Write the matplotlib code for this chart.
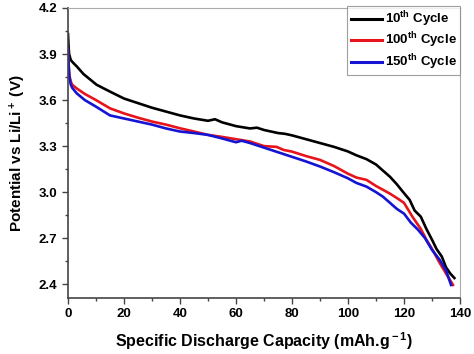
import matplotlib
matplotlib.use("Agg")
import matplotlib.pyplot as plt
from matplotlib.ticker import MultipleLocator, FormatStrFormatter

plt.rcParams['font.family'] = ['Liberation Sans', 'DejaVu Sans']
plt.rcParams['font.weight'] = 'bold'
plt.rcParams['mathtext.fontset'] = 'custom'
plt.rcParams['mathtext.rm'] = 'Liberation Sans:bold'
plt.rcParams['mathtext.bf'] = 'Liberation Sans:bold'
plt.rcParams['mathtext.it'] = 'Liberation Sans:bold'

cap_10 = [0.0, 0.2, 0.4, 1.0, 2.0, 3.1, 5.5, 10.2, 15.0, 20.0, 25.0, 30.0, 35.0, 40.0, 45.0, 50.0,
          52.5, 55.0, 60.0, 65.0, 67.5, 70.0, 75.0, 77.5, 80.0, 85.0, 90.0, 95.0, 100.0, 103.0,
          106.6, 110.0, 112.5, 115.0, 117.5, 119.7, 122.0, 123.8, 126.0, 128.0, 130.0, 131.6,
          133.5, 135.0, 136.5, 138.0]
v_10 = [4.03, 3.95, 3.90, 3.86, 3.84, 3.82, 3.77, 3.70, 3.655, 3.61, 3.58, 3.55, 3.525, 3.50, 3.48, 3.465,
        3.475, 3.455, 3.43, 3.415, 3.42, 3.405, 3.385, 3.38, 3.37, 3.345, 3.32, 3.295, 3.265, 3.24,
        3.215, 3.18, 3.14, 3.10, 3.05, 3.00, 2.95, 2.88, 2.84, 2.76, 2.69, 2.63,
        2.58, 2.51, 2.47, 2.44]

cap_100 = [0.0, 0.2, 0.5, 1.0, 1.5, 3.1, 6.0, 10.0, 15.0, 20.0, 25.0, 30.0, 35.0, 40.0, 45.0, 50.0,
           55.0, 60.0, 65.0, 70.0, 74.5, 77.0, 80.0, 85.0, 90.0, 95.0, 100.0, 103.0, 106.6, 110.0,
           112.5, 115.0, 118.0, 120.0, 123.0, 126.0, 128.0, 130.0, 132.7, 135.0, 137.5]
v_100 = [3.93, 3.83, 3.76, 3.72, 3.70, 3.676, 3.64, 3.60, 3.546, 3.513, 3.485, 3.46, 3.44, 3.416, 3.395, 3.373,
         3.36, 3.345, 3.33, 3.30, 3.295, 3.275, 3.264, 3.235, 3.21, 3.17, 3.12, 3.095, 3.08, 3.04,
         3.015, 2.99, 2.955, 2.93, 2.84, 2.76, 2.69, 2.63, 2.54, 2.47, 2.395]

cap_150 = [0.0, 0.2, 0.5, 1.0, 1.5, 3.1, 6.0, 10.0, 15.0, 20.0, 25.0, 30.0, 35.0, 40.0, 45.0, 50.0,
           55.0, 60.0, 62.0, 65.0, 70.0, 75.0, 80.0, 85.0, 90.0, 95.0, 100.0, 103.0, 106.6, 110.0,
           112.5, 115.0, 117.5, 120.0, 122.5, 125.0, 127.5, 130.0, 132.7, 135.0, 136.8]
v_150 = [3.94, 3.84, 3.75, 3.70, 3.68, 3.644, 3.60, 3.557, 3.50, 3.48, 3.46, 3.44, 3.415, 3.395, 3.385, 3.373,
         3.35, 3.325, 3.335, 3.32, 3.29, 3.26, 3.23, 3.20, 3.167, 3.13, 3.09, 3.06, 3.036, 3.00,
         2.97, 2.93, 2.89, 2.86, 2.80, 2.755, 2.70, 2.624, 2.56, 2.49, 2.395]

labels = [r'10$^{\rm th}$ Cycle', r'100$^{\rm th}$ Cycle', r'150$^{\rm th}$ Cycle']
colors = ['#000000', '#e8141c', '#1414d2']

fig = plt.figure(figsize=(4.74, 3.54), dpi=100)
ax = fig.add_axes([68/474, 1 - 298/354, (460 - 68)/474, (298 - 8)/354])

for x, y, lab, c in zip([cap_10, cap_100, cap_150], [v_10, v_100, v_150], labels, colors):
    ax.plot(x, y, color=c, lw=1.9, label=lab)

ax.set_xlim(0, 140)
ax.set_ylim(2.31, 4.2)
ax.xaxis.set_major_locator(MultipleLocator(20))
ax.xaxis.set_minor_locator(MultipleLocator(10))
ax.yaxis.set_major_locator(MultipleLocator(0.3))
ax.yaxis.set_minor_locator(MultipleLocator(0.15))
ax.yaxis.set_major_formatter(FormatStrFormatter('%.1f'))
ax.tick_params(which='both', direction='out', top=False, right=False, labelsize=9.5, color='#444444')
ax.tick_params(which='major', length=4, width=1)
ax.tick_params(which='minor', length=2.5, width=1)
for lab in ax.get_xticklabels() + ax.get_yticklabels():
    lab.set_fontweight('bold')
for s in ['left', 'bottom']:
    ax.spines[s].set_color('#444444')
    ax.spines[s].set_linewidth(1.2)
for s in ['top', 'right']:
    ax.spines[s].set_color('#aaaaaa')
    ax.spines[s].set_linewidth(0.8)

ax.set_xlabel(r'Specific Discharge Capacity (mAh.g$^{\rm -1}$)', fontsize=11.5, fontweight='bold', labelpad=7)
ax.set_ylabel(r'Potential vs Li/Li$^{\rm +}$ (V)', fontsize=11, fontweight='bold', labelpad=8)

leg = ax.legend(loc='upper right', bbox_to_anchor=(1.0, 1.007), fontsize=9.5, frameon=True, fancybox=False,
                handlelength=2.4, handletextpad=0.2, borderpad=0.25, labelspacing=0.15, borderaxespad=0.0)
leg.get_frame().set_edgecolor('#888888')
leg.get_frame().set_linewidth(0.8)
for t in leg.get_texts():
    t.set_fontweight('bold')
for l in leg.get_lines():
    l.set_linewidth(2.2)

fig.savefig('out.png', dpi=100)
